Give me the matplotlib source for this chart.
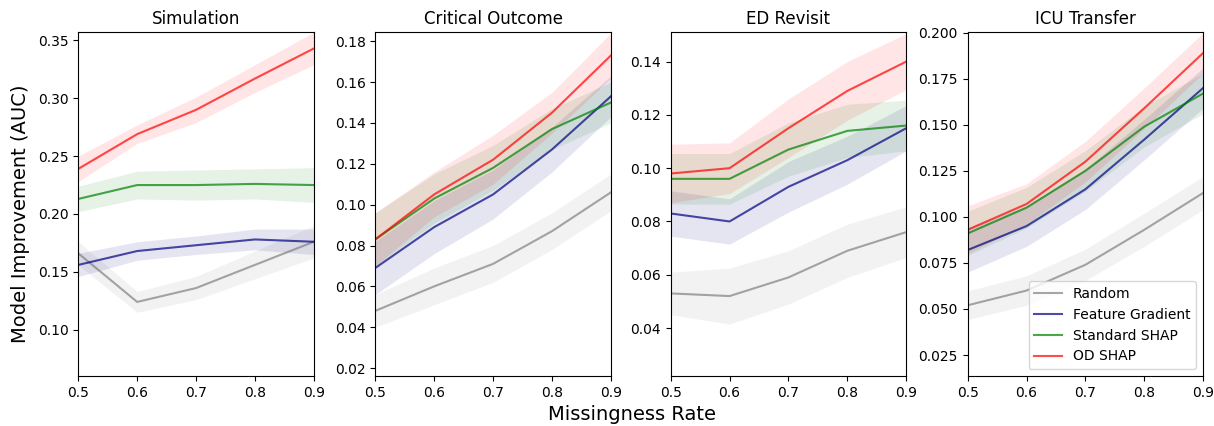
import numpy as np
import matplotlib.pyplot as plt

rates = [0.5, 0.6, 0.7, 0.8, 0.9]
titles = ['Simulation', 'Critical Outcome', 'ED Revisit', 'ICU Transfer']
methods = ['Random', 'Feature Gradient', 'Standard SHAP', 'OD SHAP']
colors = ['gray', 'navy', 'green', 'red']

# mean curves, one list per method, per task
sim_mean = [
    [0.166, 0.124, 0.136, 0.156, 0.176],
    [0.156, 0.168, 0.173, 0.178, 0.176],
    [0.213, 0.225, 0.225, 0.226, 0.225],
    [0.239, 0.269, 0.290, 0.317, 0.343],
]
sim_err = [
    [0.010, 0.009, 0.010, 0.012, 0.014],
    [0.010, 0.008, 0.008, 0.009, 0.011],
    [0.011, 0.012, 0.013, 0.013, 0.015],
    [0.011, 0.008, 0.011, 0.012, 0.014],
]
crit_mean = [
    [0.048, 0.060, 0.071, 0.087, 0.106],
    [0.069, 0.089, 0.105, 0.127, 0.153],
    [0.083, 0.103, 0.118, 0.137, 0.150],
    [0.083, 0.105, 0.122, 0.145, 0.173],
]
crit_err = [
    [0.008, 0.009, 0.009, 0.009, 0.009],
    [0.013, 0.013, 0.012, 0.011, 0.010],
    [0.013, 0.012, 0.011, 0.010, 0.010],
    [0.013, 0.011, 0.012, 0.010, 0.011],
]
ed_mean = [
    [0.053, 0.052, 0.059, 0.069, 0.076],
    [0.083, 0.080, 0.093, 0.103, 0.115],
    [0.096, 0.096, 0.107, 0.114, 0.116],
    [0.098, 0.100, 0.115, 0.129, 0.140],
]
ed_err = [
    [0.008, 0.0105, 0.010, 0.010, 0.0095],
    [0.0085, 0.0085, 0.0095, 0.009, 0.0085],
    [0.0095, 0.0095, 0.010, 0.010, 0.0095],
    [0.011, 0.0095, 0.011, 0.011, 0.0105],
]
icu_mean = [
    [0.052, 0.060, 0.074, 0.093, 0.113],
    [0.082, 0.095, 0.115, 0.142, 0.170],
    [0.091, 0.105, 0.125, 0.149, 0.167],
    [0.093, 0.107, 0.130, 0.159, 0.189],
]
icu_err = [
    [0.0078, 0.008, 0.0085, 0.009, 0.009],
    [0.012, 0.011, 0.011, 0.011, 0.011],
    [0.012, 0.011, 0.011, 0.011, 0.011],
    [0.013, 0.011, 0.011, 0.011, 0.011],
]

means = [sim_mean, crit_mean, ed_mean, icu_mean]
errs = [sim_err, crit_err, ed_err, icu_err]
ylims = [(0.060, 0.357), (0.0161, 0.1844), (0.022, 0.151), (0.0136, 0.2002)]
yticks = [
    np.arange(0.10, 0.351, 0.05),
    np.arange(0.02, 0.181, 0.02),
    np.arange(0.04, 0.141, 0.02),
    np.arange(0.025, 0.201, 0.025),
]
yfmt = ['%.2f', '%.2f', '%.2f', '%.3f']

fig = plt.figure(figsize=(12.14, 4.26), dpi=100)
lefts = [78.3, 375.3, 670.7, 967.7]
W, H = 1214, 426
axs = [fig.add_axes([l / W, 1 - 376 / H, 235.5 / W, (376 - 32.3) / H]) for l in lefts]

x = np.array(rates)
for i, ax in enumerate(axs):
    for j, m in enumerate(methods):
        mu = np.array(means[i][j])
        e = np.array(errs[i][j])
        ax.plot(x, mu, color=colors[j], alpha=0.7, lw=1.5, label=m)
        ax.fill_between(x, mu - e, mu + e, color=colors[j], alpha=0.1, lw=0)
    ax.set_title(titles[i], fontsize=12)
    ax.set_xlim(0.5, 0.9)
    ax.set_xticks(rates)
    ax.set_xticklabels(['0.5', '0.6', '0.7', '0.8', '0.9'])
    ax.set_ylim(*ylims[i])
    ax.set_yticks(yticks[i])
    ax.set_yticklabels([yfmt[i] % v for v in yticks[i]])
    ax.tick_params(labelsize=10)

axs[3].legend(loc='lower right', fontsize=10)
fig.text(0.5206, 0.026, 'Missingness Rate', ha='center', va='center', fontsize=14)
fig.text(0.0165, 0.498, 'Model Improvement (AUC)', ha='center', va='center',
         rotation=90, fontsize=14)

plt.savefig('out.png', dpi=100)
